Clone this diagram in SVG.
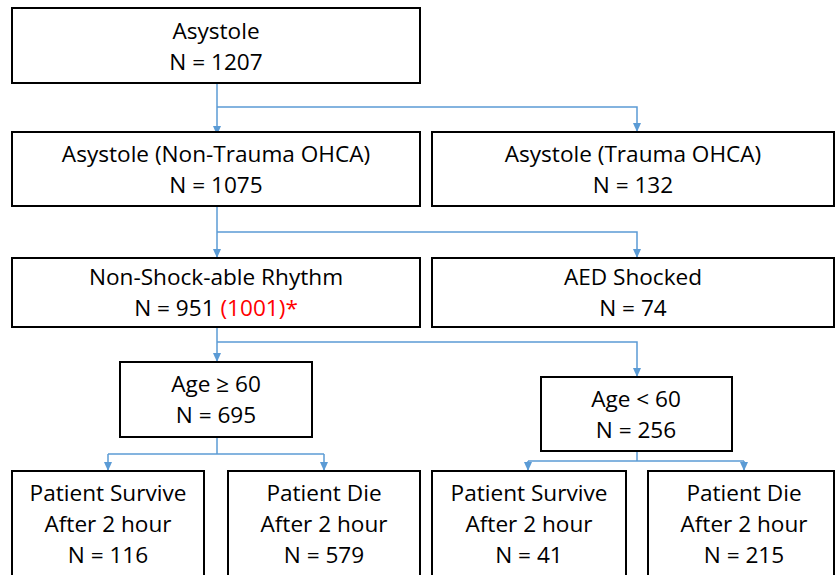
<svg xmlns="http://www.w3.org/2000/svg" width="835" height="575" viewBox="0 0 835 575">
<style>
.box{fill:#fff;stroke:#000;stroke-width:2}
text{font-family:"Open Sans","Liberation Sans",sans-serif;font-size:22.6px;fill:#000;text-anchor:middle}
.red{fill:#ff0000}
.c{fill:none;stroke:#5b9bd5;stroke-width:1.5}
</style>
<defs>
<marker id="ah" markerWidth="10" markerHeight="8" refX="9" refY="4" orient="auto" markerUnits="userSpaceOnUse">
<path d="M0,0 L9,4 L0,8 Z" fill="#5b9bd5"/>
</marker>
</defs>
<rect width="835" height="575" fill="#fff"/>
<g id="connectors">
<path class="c" d="M217,83 V135" marker-end="url(#ah)"/>
<path class="c" d="M217,107 H637 V132" marker-end="url(#ah)"/>
<path class="c" d="M217,206 V258" marker-end="url(#ah)"/>
<path class="c" d="M217,232 H637 V258" marker-end="url(#ah)"/>
<path class="c" d="M217,327 V362" marker-end="url(#ah)"/>
<path class="c" d="M217,342 H637 V377" marker-end="url(#ah)"/>
<path class="c" d="M217,437 V454" />
<path class="c" d="M108,454 H324" />
<path class="c" d="M108,454 V471" marker-end="url(#ah)"/>
<path class="c" d="M324,454 V471" marker-end="url(#ah)"/>
<path class="c" d="M637,451 V461" />
<path class="c" d="M528,461 H744" />
<path class="c" d="M528,461 V471" marker-end="url(#ah)"/>
<path class="c" d="M744,461 V471" marker-end="url(#ah)"/>
</g>
<g id="n1"><rect class="box" x="12" y="8" width="408" height="75"/><text x="216" y="39">Asystole</text><text x="216" y="70">N = 1207</text></g>
<g id="n2"><rect class="box" x="12" y="132" width="408" height="74"/><text x="216" y="162">Asystole (Non-Trauma OHCA)</text><text x="216" y="193">N = 1075</text></g>
<g id="n3"><rect class="box" x="432" y="132" width="402" height="74"/><text x="633" y="162">Asystole (Trauma OHCA)</text><text x="633" y="193">N = 132</text></g>
<g id="n4"><rect class="box" x="12" y="258" width="408" height="69"/><text x="216" y="285">Non-Shock-able Rhythm</text><text x="216" y="316">N = 951 <tspan class="red">(1001)*</tspan></text></g>
<g id="n5"><rect class="box" x="432" y="258" width="402" height="69"/><text x="633" y="285">AED Shocked</text><text x="633" y="316">N = 74</text></g>
<g id="n6"><rect class="box" x="120" y="362" width="192" height="75"/><text x="216" y="392">Age ≥ 60</text><text x="216" y="423">N = 695</text></g>
<g id="n7"><rect class="box" x="541" y="377" width="191" height="74"/><text x="636" y="407">Age &lt; 60</text><text x="636" y="438">N = 256</text></g>
<g id="n8"><rect class="box" x="12" y="471" width="192" height="110"/><text x="108" y="501">Patient Survive</text><text x="108" y="532">After 2 hour</text><text x="108" y="563">N = 116</text></g>
<g id="n9"><rect class="box" x="228" y="471" width="192" height="110"/><text x="324" y="501">Patient Die</text><text x="324" y="532">After 2 hour</text><text x="324" y="563">N = 579</text></g>
<g id="n10"><rect class="box" x="432" y="471" width="194" height="110"/><text x="529" y="501">Patient Survive</text><text x="529" y="532">After 2 hour</text><text x="529" y="563">N = 41</text></g>
<g id="n11"><rect class="box" x="648" y="471" width="186" height="110"/><text x="744" y="501">Patient Die</text><text x="744" y="532">After 2 hour</text><text x="744" y="563">N = 215</text></g>
</svg>
